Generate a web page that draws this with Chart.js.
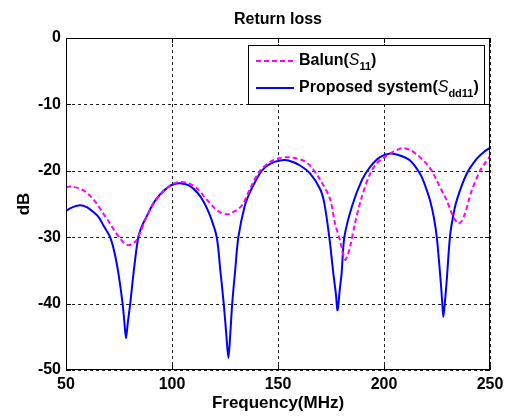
<!DOCTYPE html>
<html lang="en">
<head>
  <meta charset="UTF-8">
  <title>Return loss</title>
  <script src="https://cdn.jsdelivr.net/npm/chart.js"></script>
  <style>
    body {
      margin: 0;
      background: white;
    }
    canvas {
      display: block;
    }
  </style>
</head>
<body>

  <canvas id="chart" width="510" height="420"></canvas>

  <script>
    // values: frequency (MHz) and return loss (dB)
    const balunFreq = [50, 53.4, 58.2, 61.5, 64.5, 67.5, 70.8, 73, 75.5, 77.5, 79.4, 81.3, 83.3, 85.5, 88, 91, 94.3, 98,
      101, 104, 108, 112, 116, 120, 123, 126.6, 129.5, 131.5, 133.6, 136.8, 141.5, 146.2, 150, 154.1, 157.5, 161.9,
      165.1, 169.8, 174.5, 176.9, 179.2, 181.6, 183, 184, 186.3, 189.5, 193.4, 196.5, 200, 204, 208.5, 212.3, 216,
      220.1, 222.5, 224.9, 227.3, 229.6, 231.2, 232.8, 234.9, 236.6, 238.2, 239.8, 241.4, 245.3, 248, 250];
    const balunDb = [-22.45, -22.4, -22.95, -23.8, -24.95, -26.4, -27.95, -29.1, -30.15, -30.9, -31.2, -31.0, -30.45,
      -28.9, -26.95, -25.1, -23.7, -22.5, -21.9, -21.7, -21.9, -22.7, -24.2, -25.6, -26.3, -26.55, -26.1, -25.7,
      -24.95, -22.7, -20.0, -18.7, -18.15, -17.95, -18.05, -18.45, -19.2, -21.3, -24.2, -27.95, -30.45, -33.4, -32.6,
      -31.45, -27.95, -23.95, -20.45, -18.9, -18.0, -17.2, -16.6, -16.85, -17.7, -18.95, -20.0, -21.45, -23.0, -24.45,
      -25.8, -26.95, -27.95, -27.6, -26.45, -24.7, -22.95, -20.0, -18.7, -17.8];

    const proposedFreq = [50, 53, 56.6, 60, 62.9, 65.5, 67.6, 70.8, 73, 75, 76.7, 77.6, 78.3, 79.1, 80.3, 82, 84.1, 86,
      88, 91, 94.3, 98, 101, 104.5, 108, 112, 115, 118, 121.1, 122.8, 124.4, 125.7, 126.6, 127.4, 128.4, 129.8,
      131.3, 134.4, 136.8, 140, 142.3, 146.2, 151, 154.9, 160.4, 165.1, 169.8, 171.8, 174.2, 176.1, 177.3, 178.1,
      179.1, 180, 181.3, 184.8, 189.5, 193.4, 198.1, 203, 207.5, 212.3, 217, 219.5, 221.7, 223.5, 224.9, 226.7,
      227.4, 228, 228.8, 229.6, 231.1, 232.5, 234.3, 239, 243.7, 247, 250];
    const proposedDb = [-26.0, -25.5, -25.2, -25.5, -26.2, -27.0, -28.2, -30.0, -32.5, -36.0, -40.0, -43.0, -45.2,
      -43.0, -40.0, -35.0, -30.0, -28.2, -26.9, -25.0, -23.6, -22.5, -22.0, -21.9, -22.2, -23.3, -24.7, -26.8, -30.0,
      -35.0, -40.0, -45.0, -48.2, -45.0, -40.0, -35.0, -30.0, -25.2, -23.2, -21.2, -20.0, -18.95, -18.45, -18.45,
      -19.2, -20.4, -22.7, -24.8, -30.0, -35.45, -38.5, -41.0, -38.0, -35.45, -30.0, -25.45, -21.45, -19.45, -17.95,
      -17.4, -17.7, -18.45, -20.45, -22.3, -24.45, -27.0, -30.0, -36.45, -39.5, -42.0, -39.5, -36.45, -30.0, -27.0,
      -24.45, -20.45, -18.2, -17.2, -16.55];

    // legend text: name, then italic S with a subscript
    const legendNames = ['Balun', 'Proposed system'];
    const legendSubs = ['11', 'dd11'];

    const fontFam = '"Liberation Sans", Arial, sans-serif';

    function toPoints(xs, ys) {
      return xs.map(function (x, i) { return { x: x, y: ys[i] }; });
    }

    // dotted grid under the curves
    const gridPlugin = {
      id: 'dottedGrid',
      beforeDatasetsDraw: function (chart) {
        const ctx = chart.ctx;
        const a = chart.chartArea;
        const xs = chart.scales.x;
        const ys = chart.scales.y;
        ctx.save();
        ctx.strokeStyle = '#222';
        ctx.lineWidth = 1;
        ctx.setLineDash([3, 3]);
        ctx.beginPath();
        xs.ticks.forEach(function (t) {
          const px = Math.round(xs.getPixelForValue(t.value)) + 0.5;
          ctx.moveTo(px, a.top); ctx.lineTo(px, a.bottom);
        });
        ys.ticks.forEach(function (t) {
          const py = Math.round(ys.getPixelForValue(t.value)) + 0.5;
          ctx.moveTo(a.left, py); ctx.lineTo(a.right, py);
        });
        ctx.stroke();
        ctx.restore();
      }
    };

    // frame round the plot, inward ticks and the legend box
    const framePlugin = {
      id: 'frame',
      afterDraw: function (chart) {
        const ctx = chart.ctx;
        const a = chart.chartArea;
        const xs = chart.scales.x;
        const ys = chart.scales.y;
        ctx.save();
        ctx.strokeStyle = '#000';
        ctx.lineWidth = 1;
        ctx.setLineDash([]);
        ctx.strokeRect(Math.round(a.left) + 0.5, Math.round(a.top) + 0.5,
          Math.round(a.right - a.left) - 1, Math.round(a.bottom - a.top) - 1);

        ctx.beginPath();
        xs.ticks.forEach(function (t) {
          const px = Math.round(xs.getPixelForValue(t.value)) + 0.5;
          ctx.moveTo(px, a.bottom); ctx.lineTo(px, a.bottom - 5);
          ctx.moveTo(px, a.top); ctx.lineTo(px, a.top + 5);
        });
        ys.ticks.forEach(function (t) {
          const py = Math.round(ys.getPixelForValue(t.value)) + 0.5;
          ctx.moveTo(a.left, py); ctx.lineTo(a.left + 5, py);
          ctx.moveTo(a.right, py); ctx.lineTo(a.right - 5, py);
        });
        ctx.stroke();

        // legend
        const bx = 248, by = 45, bw = 236, bh = 59;
        ctx.fillStyle = 'white';
        ctx.fillRect(bx, by, bw, bh);
        ctx.strokeRect(bx + 0.5, by + 0.5, bw, bh);
        const rows = [61, 88];
        chart.data.datasets.forEach(function (ds, i) {
          const y = rows[i];
          ctx.strokeStyle = ds.borderColor;
          ctx.lineWidth = 2;
          ctx.setLineDash(ds.borderDash || []);
          ctx.beginPath();
          ctx.moveTo(256, y);
          ctx.lineTo(294, y);
          ctx.stroke();
          ctx.setLineDash([]);

          ctx.fillStyle = '#000';
          ctx.textBaseline = 'middle';
          let x = 299;
          ctx.font = 'bold 16px ' + fontFam;
          const head = legendNames[i] + '(';
          ctx.fillText(head, x, y);
          x += ctx.measureText(head).width;
          ctx.font = 'italic 16px ' + fontFam;
          ctx.fillText('S', x, y);
          x += ctx.measureText('S').width;
          ctx.font = 'bold 11px ' + fontFam;
          ctx.fillText(legendSubs[i], x, y + 6);
          x += ctx.measureText(legendSubs[i]).width;
          ctx.font = 'bold 16px ' + fontFam;
          ctx.fillText(')', x, y);
        });
        ctx.restore();
      }
    };

    const ctx = document.getElementById('chart').getContext('2d');
    const chart = new Chart(ctx, {
      type: 'line',
      data: {
        datasets: [{
          label: 'Balun(S11)',
          data: toPoints(balunFreq, balunDb),
          borderColor: '#ff00ff',
          borderWidth: 2,
          borderDash: [5, 3],
          pointRadius: 0,
          fill: false,
          tension: 0.3
        }, {
          label: 'Proposed system(Sdd11)',
          data: toPoints(proposedFreq, proposedDb),
          borderColor: '#0000ff',
          borderWidth: 2,
          pointRadius: 0,
          fill: false,
          tension: 0.3
        }]
      },
      options: {
        responsive: false,
        animation: false,
        layout: { padding: { left: 0, right: 20, top: 0, bottom: 0 } },
        plugins: {
          legend: { display: false },
          tooltip: { enabled: false },
          title: {
            display: true,
            text: 'Return loss',
            color: '#000',
            fullSize: false,
            font: { family: fontFam, size: 16, weight: 'bold' },
            padding: { top: 10, bottom: 8.8 }
          }
        },
        scales: {
          x: {
            type: 'linear',
            min: 50,
            max: 250,
            afterFit: function (s) { s.height = 50; },
            ticks: {
              stepSize: 50,
              color: '#000',
              padding: 5,
              font: { family: fontFam, size: 16, weight: 'bold' }
            },
            grid: { display: false, drawTicks: false },
            border: { display: false },
            title: {
              display: true,
              text: 'Frequency(MHz)',
              color: '#000',
              font: { family: fontFam, size: 17, weight: 'bold' },
              padding: { top: 0, bottom: 6 }
            }
          },
          y: {
            min: -50,
            max: 0,
            afterFit: function (s) { s.width = 66; },
            ticks: {
              stepSize: 10,
              color: '#000',
              padding: 5,
              font: { family: fontFam, size: 16, weight: 'bold' }
            },
            grid: { display: false, drawTicks: false },
            border: { display: false },
            title: {
              display: true,
              text: 'dB',
              color: '#000',
              font: { family: fontFam, size: 17, weight: 'bold' },
              padding: { top: 14, bottom: 0 }
            }
          }
        }
      },
      plugins: [gridPlugin, framePlugin]
    });
  </script>
</body>
</html>
